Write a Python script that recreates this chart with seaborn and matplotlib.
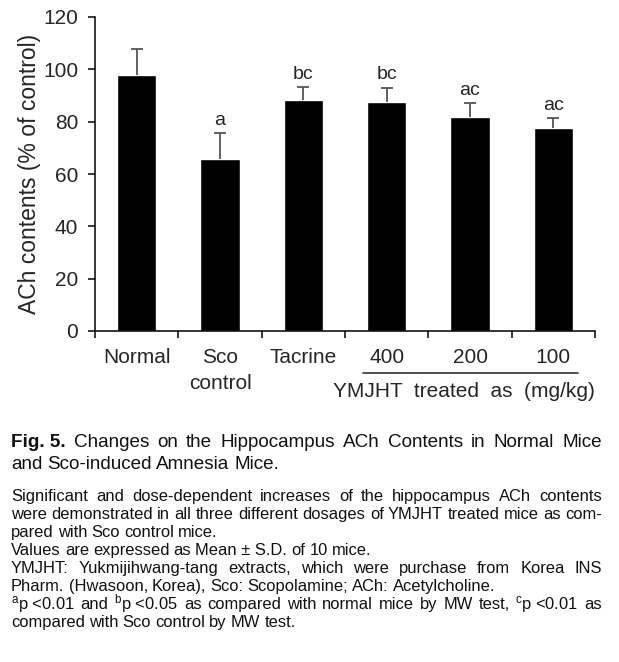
import numpy as np
import pandas as pd
import matplotlib
matplotlib.use("Agg")
import matplotlib.pyplot as plt
import seaborn as sns
from matplotlib import font_manager

# values
groups = ["Normal", "Sco\ncontrol", "Tacrine", "400", "200", "100"]
ach_mean = [97.7, 65.6, 88.3, 87.6, 81.9, 77.5]
ach_sd = [9.9, 9.9, 4.9, 5.4, 5.1, 3.8]
sig_marks = ["", "a", "bc", "bc", "ac", "ac"]
yticks = [0, 20, 40, 60, 80, 100, 120]

title_lines = [
    ["Fig. 5.", "Changes", "on", "the", "Hippocampus", "ACh", "Contents", "in", "Normal", "Mice"],
    ["and", "Sco-induced", "Amnesia", "Mice."],
]
body_lines = [
    ("Significant and dose-dependent increases of the hippocampus ACh contents", True),
    ("were demonstrated in all three different dosages of YMJHT treated mice as com-", True),
    ("pared with Sco control mice.", False),
    ("Values are expressed as Mean\u00a0\u00b1\u00a0S.D. of 10 mice.", False),
    ("YMJHT: Yukmijihwang-tang extracts, which were purchase from Korea INS", True),
    ("Pharm. (Hwasoon, Korea), Sco: Scopolamine; ACh: Acetylcholine.", False),
    ("$^{\\mathrm{a}}$p\u00a0<0.01 and $^{\\mathrm{b}}$p\u00a0<0.05 as compared with normal mice by MW test, $^{\\mathrm{c}}$p\u00a0<0.01 as", True),
    ("compared with Sco control by MW test.", False),
]

sns.set_theme(style="ticks")
names = {f.name for f in font_manager.fontManager.ttflist}
narrow = "Liberation Sans Narrow" if "Liberation Sans Narrow" in names else "Liberation Sans"
plt.rcParams["font.family"] = ["Liberation Sans", "DejaVu Sans"]
plt.rcParams["mathtext.fontset"] = "custom"
plt.rcParams["mathtext.rm"] = narrow
plt.rcParams["mathtext.it"] = narrow

df = pd.DataFrame({"group": groups, "ach": ach_mean})

fig = plt.figure(figsize=(6.19, 6.62), dpi=100)
ax = fig.add_axes([95/619, 1 - 331/662, 500/619, 314/662])

sns.barplot(data=df, x="group", y="ach", color="black", saturation=1,
            width=0.47, errorbar=None, ax=ax)

x = np.arange(len(groups))
eb = ax.errorbar(x, ach_mean, yerr=[np.zeros(len(x)), ach_sd], fmt="none",
                 ecolor="#555555", elinewidth=1.3, capsize=4, capthick=1.3)
# keep only the upper caps
for cap in eb.lines[1]:
    if np.allclose(cap.get_ydata(), ach_mean):
        cap.set_visible(False)

for xi, m, s, lab in zip(x, ach_mean, ach_sd, sig_marks):
    if lab:
        ax.annotate(lab, (xi, m + s), xytext=(0, 3), textcoords="offset points",
                    ha="center", va="bottom", fontsize=14)

ax.set_xlim(-0.5, len(groups) - 0.5)
ax.set_ylim(0, 120)
ax.set_yticks(yticks)
ax.set_xticks(x)
ax.set_xticklabels(groups, linespacing=1.5)
ax.set_xticks(np.arange(-0.5, len(groups)), minor=True)
ax.tick_params(axis="x", which="major", length=0, pad=12, labelsize=15)
ax.tick_params(axis="x", which="minor", length=5, width=1.1, color="black")
ax.tick_params(axis="y", length=5, width=1.1, color="black", pad=7, labelsize=15)
ax.set_xlabel("")
ax.set_ylabel("ACh contents (% of control)", fontsize=16.5, labelpad=1.5)
sns.despine(ax=ax)
for sp in ["left", "bottom"]:
    ax.spines[sp].set_linewidth(1.1)
    ax.spines[sp].set_color("black")

# dose group bracket
ax.plot([3 - 0.28, 5 + 0.3], [-0.134, -0.134], transform=ax.get_xaxis_transform(),
        clip_on=False, color="#333333", lw=1.2)
ax.text(3.93, -0.194, "YMJHT  treated  as  (mg/kg)", transform=ax.get_xaxis_transform(),
        ha="center", va="center", fontsize=15)

# caption, justified like the printed figure
LEFT, RIGHT = 11, 602
W, H = 619, 662
renderer = fig.canvas.get_renderer()


def put_words(words, ybase, size, justify, bold_first=0):
    texts = []
    for i, w in enumerate(words):
        t = fig.text(0, 1 - ybase / H, w, fontsize=size, family=[narrow, "DejaVu Sans"],
                     fontweight="bold" if i < bold_first else "normal",
                     ha="left", va="baseline", color="#111111")
        texts.append(t)
    widths = [t.get_window_extent(renderer).width for t in texts]
    if justify and len(words) > 1:
        gap = (RIGHT - LEFT - sum(widths)) / (len(words) - 1)
    else:
        gap = size / 72 * 100 * 0.25
    xpos = LEFT
    for t, wd in zip(texts, widths):
        t.set_x(xpos / W)
        xpos += wd + gap


put_words(title_lines[0], 447, 13.6, True, bold_first=1)
put_words(title_lines[1], 469, 13.6, False)

y0, dy = 501, 18
for i, (line, just) in enumerate(body_lines):
    put_words(line.split(" "), y0 + i * dy, 11.9, just)

fig.savefig("out.png", dpi=100)
